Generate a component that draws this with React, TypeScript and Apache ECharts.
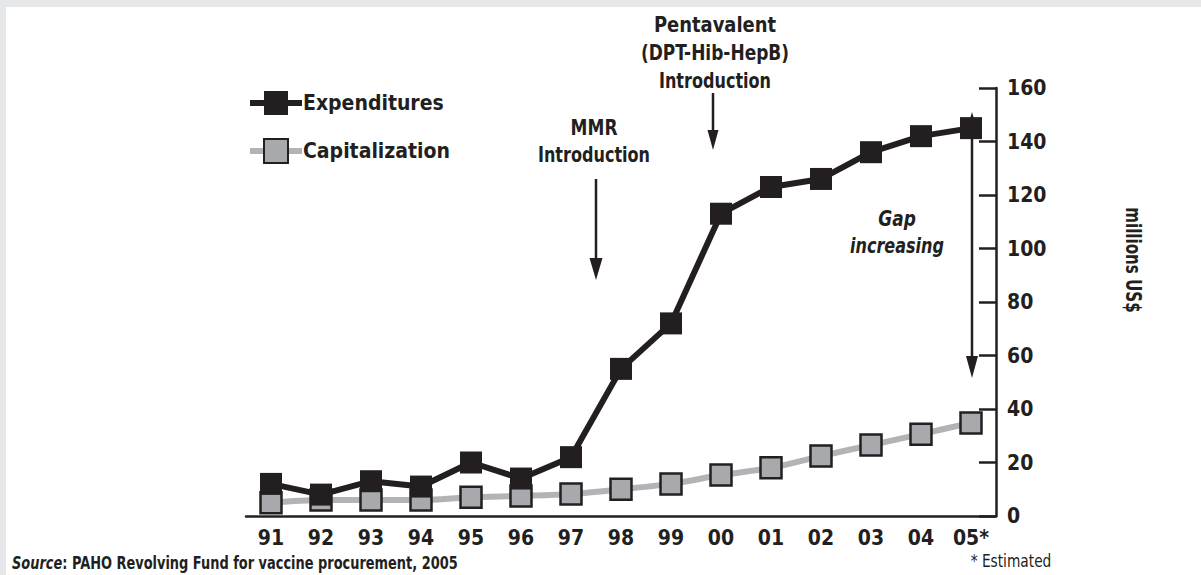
import React, { useEffect, useRef } from "react";
import * as echarts from "echarts";

const years = ["91", "92", "93", "94", "95", "96", "97", "98", "99", "00", "01", "02", "03", "04", "05*"];
const expenditures = [12, 8, 13, 11, 20, 14, 22, 55, 72, 113, 123, 126, 136, 142, 145];
const capitalization = [5, 6, 6, 6, 7, 7.5, 8.2, 10, 12, 15.3, 18, 22.4, 26.5, 30.6, 34.8];
const yTicks = { min: 0, max: 160, interval: 20 };

const FONT = "'Liberation Sans Narrow', 'DejaVu Sans Condensed', 'Roboto Condensed', sans-serif";
const INK = "#231f20";

export default function App() {
  const ref = useRef<HTMLDivElement>(null);
  useEffect(() => {
    if (!ref.current) return;
    const chart = echarts.init(ref.current, null, { renderer: "svg" });
    const txt = (x: number, y: number, text: string, sx: number, extra: any = {}) => ({
      type: "text",
      x,
      y,
      scaleX: sx,
      style: {
        text,
        fontFamily: FONT,
        fontWeight: "bold",
        fontSize: 21,
        fill: INK,
        align: "center",
        verticalAlign: "middle",
        ...extra,
      },
    });
    const vline = (x: number, y1: number, y2: number) => ({
      type: "line",
      shape: { x1: x, y1, x2: x, y2 },
      style: { stroke: INK, lineWidth: 2.5 },
    });
    const headDown = (x: number, yTip: number, h: number, w: number) => ({
      type: "polygon",
      shape: { points: [[x - w / 2, yTip - h], [x + w / 2, yTip - h], [x, yTip]] },
      style: { fill: INK },
    });
    const headUp = (x: number, yTip: number, h: number, w: number) => ({
      type: "polygon",
      shape: { points: [[x - w / 2, yTip + h], [x + w / 2, yTip + h], [x, yTip]] },
      style: { fill: INK },
    });

    chart.setOption({
      animation: false,
      backgroundColor: "#ffffff",
      grid: { left: 246, right: 205, top: 88, bottom: 59 },
      legend: {
        orient: "vertical",
        left: 242,
        top: 86,
        itemGap: 23,
        itemWidth: 52,
        itemHeight: 30,
        lineStyle: { width: 6 },
        textStyle: { fontFamily: FONT, fontWeight: "bold", fontSize: 21, color: INK, padding: [0, 0, 0, -4] },
        data: ["Expenditures", "Capitalization"],
      },
      xAxis: {
        type: "category",
        data: years,
        boundaryGap: true,
        axisLine: { lineStyle: { color: INK, width: 2.5 } },
        axisTick: { alignWithLabel: true, inside: true, length: 10, lineStyle: { color: INK, width: 2.5 } },
        axisLabel: { color: INK, fontFamily: FONT, fontWeight: "bold", fontSize: 21, margin: 11 },
      },
      yAxis: {
        type: "value",
        position: "right",
        min: yTicks.min,
        max: yTicks.max,
        interval: yTicks.interval,
        splitLine: { show: false },
        axisLine: { show: true, lineStyle: { color: INK, width: 2.5 } },
        axisTick: { show: true, inside: true, length: 17, lineStyle: { color: INK, width: 2.5 } },
        axisLabel: { color: INK, fontFamily: FONT, fontWeight: "bold", fontSize: 21, margin: 11 },
      },
      series: [
        {
          name: "Capitalization",
          type: "line",
          data: capitalization,
          smooth: 0.3,
          z: 2,
          symbol: "rect",
          symbolSize: 21,
          lineStyle: { color: "#b1b3b6", width: 6 },
          itemStyle: { color: "#a7a9ac", borderColor: INK, borderWidth: 2.5 },
        },
        {
          name: "Expenditures",
          type: "line",
          data: expenditures,
          z: 3,
          symbol: "rect",
          symbolSize: 22,
          lineStyle: { color: INK, width: 6 },
          itemStyle: { color: INK, borderColor: INK, borderWidth: 0 },
        },
      ],
      graphic: [
        { type: "rect", shape: { x: 0, y: 0, width: 1201, height: 7 }, style: { fill: "#e6e7e8" }, silent: true },
        { type: "rect", shape: { x: 0, y: 0, width: 6, height: 575 }, style: { fill: "#e6e7e8" }, silent: true },
        txt(715, 25, "Pentavalent", 0.95),
        txt(715, 53, "(DPT-Hib-HepB)", 0.9),
        txt(715, 81, "Introduction", 0.85),
        vline(713, 93, 132),
        headDown(713, 150, 20, 11),
        txt(594, 128, "MMR", 0.9),
        txt(594, 155, "Introduction", 0.85),
        vline(596, 179, 262),
        headDown(596, 280, 22, 13),
        txt(897, 219, "Gap", 0.9, { fontStyle: "italic" }),
        txt(897, 246, "increasing", 0.85, { fontStyle: "italic" }),
        vline(972, 118, 362),
        headUp(972, 112, 12, 7),
        headDown(972, 378, 22, 12),
        {
          type: "text",
          x: 1134,
          y: 260,
          rotation: -Math.PI / 2,
          scaleX: 0.8,
          style: {
            text: "millions US$",
            fontFamily: FONT,
            fontWeight: "bold",
            fontSize: 21,
            fill: INK,
            align: "center",
            verticalAlign: "middle",
          },
        },
        {
          type: "text",
          x: 12,
          y: 563,
          scaleX: 0.8,
          style: {
            text: "{i|Source}: PAHO Revolving Fund for vaccine procurement, 2005",
            fontFamily: FONT,
            fontWeight: "bold",
            fontSize: 18,
            fill: INK,
            verticalAlign: "middle",
            rich: {
              i: { fontFamily: FONT, fontWeight: "bold", fontStyle: "italic", fontSize: 18, fill: INK },
            },
          },
        },
        txt(1011, 561, "* Estimated", 0.85, { fontWeight: "normal", fontSize: 18 }),
      ],
    });
    return () => chart.dispose();
  }, []);
  return (
    <div
      ref={ref}
      style={{ position: "absolute", left: 0, top: 0, width: 1201, height: 575 }}
    />
  );
}
